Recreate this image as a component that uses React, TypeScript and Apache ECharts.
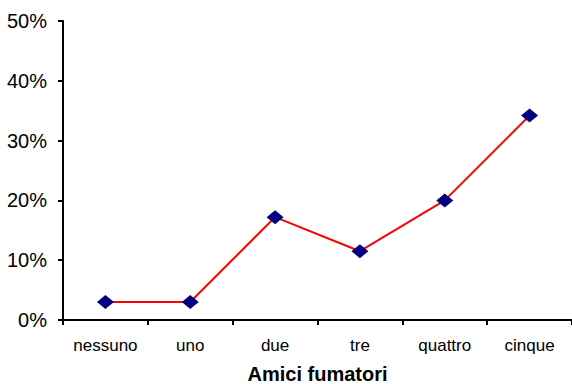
import React, { useEffect, useRef } from "react";
import * as echarts from "echarts";

const categories = ["nessuno", "uno", "due", "tre", "quattro", "cinque"];
const percentValues = [3, 3, 17.2, 11.5, 20, 34.2];
const axisTitle = "Amici fumatori";

export default function App() {
  const ref = useRef<HTMLDivElement>(null);

  useEffect(() => {
    if (!ref.current) return;
    const chart = echarts.init(ref.current, null, { renderer: "svg" });
    const font = "Liberation Sans, Arial, sans-serif";
    chart.setOption({
      animation: false,
      backgroundColor: "#ffffff",
      grid: {
        left: 63,
        right: 0,
        top: 21,
        bottom: 64,
        containLabel: false,
        outerBoundsMode: "none",
      },
      xAxis: {
        type: "category",
        data: categories,
        boundaryGap: true,
        name: axisTitle,
        nameLocation: "middle",
        nameGap: 44,
        nameTextStyle: {
          fontFamily: font,
          fontSize: 20,
          lineHeight: 20,
          fontWeight: "bold",
          color: "#000",
        },
        axisLine: { show: true, lineStyle: { color: "#000", width: 2 } },
        axisTick: { show: true, length: 5, lineStyle: { color: "#000", width: 2 } },
        axisLabel: { fontFamily: font, fontSize: 17, color: "#000", margin: 17 },
        splitLine: { show: false },
      },
      yAxis: {
        type: "value",
        min: 0,
        max: 50,
        interval: 10,
        axisLine: { show: true, lineStyle: { color: "#000", width: 2 } },
        axisTick: { show: true, length: 5, lineStyle: { color: "#000", width: 2 } },
        axisLabel: {
          fontFamily: font,
          fontSize: 20,
          color: "#000",
          margin: 16,
          formatter: (v: number) => `${v}%`,
        },
        splitLine: { show: false },
      },
      series: [
        {
          type: "line",
          data: percentValues,
          symbol: "diamond",
          symbolSize: [17, 14],
          itemStyle: { color: "#000080" },
          lineStyle: { color: "#ff0000", width: 2 },
        },
      ],
    });
    return () => chart.dispose();
  }, []);

  return <div ref={ref} style={{ width: 572, height: 384, position: "absolute", left: 0, top: 0 }} />;
}
